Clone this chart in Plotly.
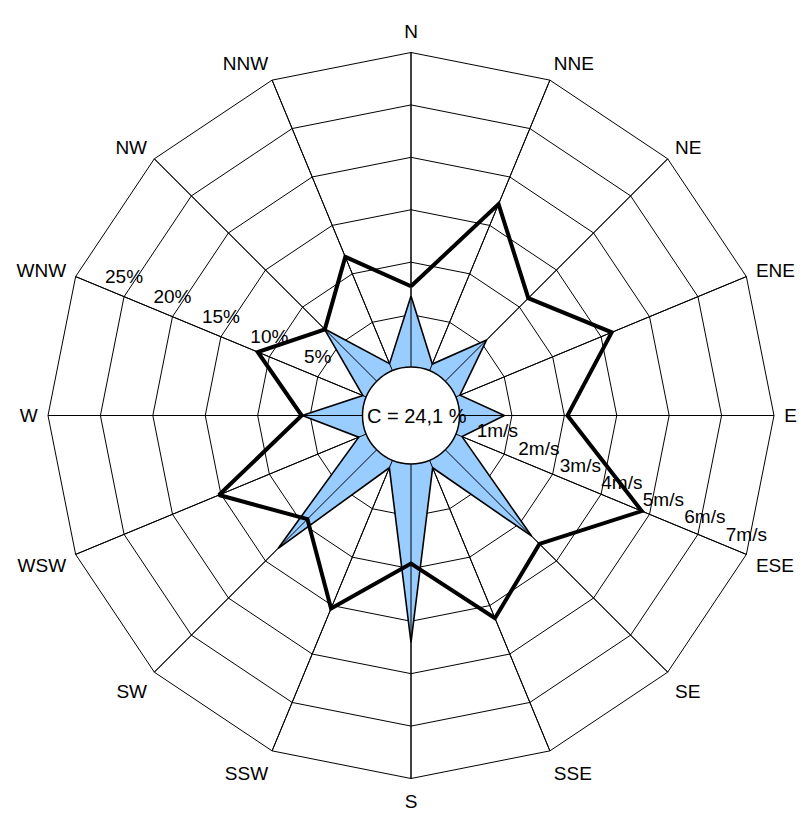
import plotly.graph_objects as go

# ---- data ----
directions = ["N", "NNE", "NE", "ENE", "E", "ESE", "SE", "SSE",
              "S", "SSW", "SW", "WSW", "W", "WNW", "NW", "NNW"]
frequency_pct = [7.7, 17.2, 11.2, 16.1, 10.3, 19.2, 12.7, 16.3,
                 9.5, 15.3, 9.35, 15.2, 5.8, 11.2, 7.0, 11.75]
speed_ms = [1.58, 0.16, 1.3, 0.1, 1.0, 0.15, 2.72, 0.18,
            3.97, 0.18, 3.1, 0.18, 1.34, 0.08, 1.65, 0.17]
pct_ticks = [5, 10, 15, 20, 25]
pct_labels = ["5%", "10%", "15%", "20%", "25%"]
pct_label_dir = "WNW"
speed_ticks = [1, 2, 3, 4, 5, 6, 7]
speed_labels = ["1m/s", "2m/s", "3m/s", "4m/s", "5m/s", "6m/s", "7m/s"]
speed_label_dir = "ESE"
calm_text = "C = 24,1 %"

# ---- layout geometry ----
W, H = 803, 814
cx, cy, R = 411, 415.5, 363
hole_px = 48.5
dom_x = [(cx - R) / W, (cx + R) / W]
dom_y = [1 - (cy + R) / H, 1 - (cy - R) / H]
hole = hole_px / R
FONT = "Liberation Sans, Arial, sans-serif"
LBL = 19
LABEL_MARKER = dict(size=13, opacity=0, color="white")

fig = go.Figure()

# percent scale labels (base subplot, under the data)
fig.add_trace(go.Scatterpolar(
    r=pct_ticks, theta=[pct_label_dir] * len(pct_ticks), text=pct_labels,
    mode="markers+text", textposition="top center", marker=LABEL_MARKER,
    textfont=dict(size=LBL, family=FONT, color="black"),
    subplot="polar", hoverinfo="skip", showlegend=False, cliponaxis=False))

# blue speed star (m/s scale)
fig.add_trace(go.Scatterpolar(
    r=speed_ms + speed_ms[:1], theta=directions + directions[:1],
    mode="lines", fill="toself", fillcolor="#99ccff",
    line=dict(color="black", width=1.6), subplot="polar2",
    hoverinfo="skip", showlegend=False))

# speed scale labels
fig.add_trace(go.Scatterpolar(
    r=speed_ticks, theta=[speed_label_dir] * len(speed_ticks),
    text=speed_labels, mode="markers+text", textposition="top center",
    marker=LABEL_MARKER,
    textfont=dict(size=LBL, family=FONT, color="black"),
    subplot="polar2", hoverinfo="skip", showlegend=False, cliponaxis=False))

# black frequency line (% scale)
fig.add_trace(go.Scatterpolar(
    r=frequency_pct + frequency_pct[:1], theta=directions + directions[:1],
    mode="lines", line=dict(color="black", width=4), subplot="polar3",
    hoverinfo="skip", showlegend=False))

common_ang = dict(type="category", categoryarray=directions, rotation=90,
                  direction="clockwise")

fig.update_layout(
    width=W, height=H, margin=dict(l=0, r=0, t=0, b=0),
    paper_bgcolor="white", plot_bgcolor="white",
    font=dict(family=FONT, size=LBL, color="black"),
    showlegend=False,
    polar=dict(
        domain=dict(x=dom_x, y=dom_y), hole=hole, gridshape="linear",
        bgcolor="white",
        angularaxis=dict(**common_ang, showgrid=True, gridcolor="black",
                         gridwidth=1, showline=True, linecolor="black",
                         linewidth=1, ticks="outside", ticklen=6,
                         tickcolor="rgba(0,0,0,0)", showticklabels=True,
                         tickfont=dict(size=LBL, family=FONT)),
        radialaxis=dict(range=[0, 30], tickmode="array", tickvals=pct_ticks,
                        showgrid=True, gridcolor="black", gridwidth=1,
                        showline=False, ticks="", showticklabels=False,
                        angle=157.5),
    ),
    polar2=dict(
        domain=dict(x=dom_x, y=dom_y), hole=hole, gridshape="linear",
        bgcolor="rgba(0,0,0,0)",
        angularaxis=dict(**common_ang, showgrid=False, showline=False,
                         ticks="", showticklabels=False),
        radialaxis=dict(range=[0, 7], showgrid=False, showline=False,
                        ticks="", showticklabels=False, angle=-22.5),
    ),
    polar3=dict(
        domain=dict(x=dom_x, y=dom_y), hole=hole, gridshape="linear",
        bgcolor="rgba(0,0,0,0)",
        angularaxis=dict(**common_ang, showgrid=True, gridcolor="black",
                         gridwidth=1, showline=False, ticks="",
                         showticklabels=False),
        radialaxis=dict(range=[0, 30], showgrid=False, showline=False,
                        showticklabels=False, ticks=""),
    ),
)

xc = (dom_x[0] + dom_x[1]) / 2
yc = (dom_y[0] + dom_y[1]) / 2
fig.add_shape(type="circle", xref="paper", yref="paper",
              xsizemode="pixel", ysizemode="pixel", xanchor=xc, yanchor=yc,
              x0=-hole_px, x1=hole_px, y0=-hole_px, y1=hole_px,
              fillcolor="white", line=dict(color="black", width=1.5),
              layer="above")
fig.add_annotation(x=xc, y=yc, xref="paper", yref="paper", text=calm_text,
                   showarrow=False, xanchor="center", yanchor="middle",
                   xshift=6, font=dict(size=20, family=FONT, color="black"))

fig.write_html("out.html", config=dict(displayModeBar=False),
               post_script="document.body.style.margin='0px';"
                           "document.body.style.overflow='hidden';")
